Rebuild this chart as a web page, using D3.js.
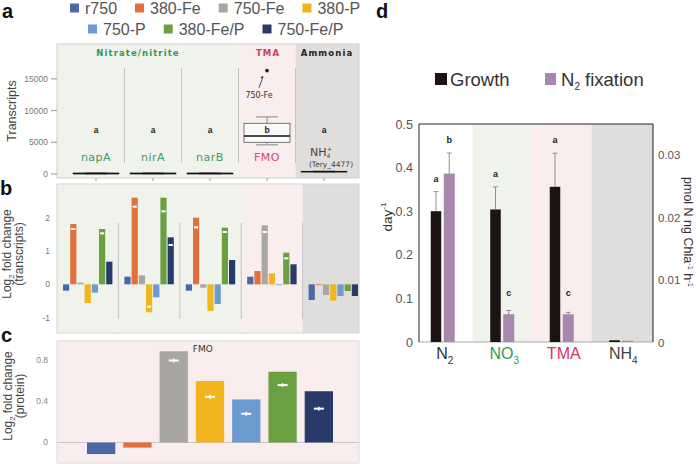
<!DOCTYPE html>
<html><head><meta charset="utf-8">
<script src="https://cdn.jsdelivr.net/npm/d3@7"></script>
<style>body{margin:0;background:#fff} svg{display:block}</style>
</head><body>
<svg id="c" width="696" height="464"></svg>
<script>
// ---------- DATA ----------
const series = ["r750", "380-Fe", "750-Fe", "380-P", "750-P", "380-Fe/P", "750-Fe/P"];
const seriesColors = ["#4a68a8", "#e2703a", "#a9a6a2", "#f2b51e", "#6b9bd0", "#6ba042", "#283a6a"];

const genes = ["napA", "nirA", "narB", "FMO", "NH4"];
const geneGroup = ["nitrate", "nitrate", "nitrate", "tma", "ammonia"];
// transcripts boxplot stats: [min, q1, median, q3, max]
const transcriptStats = [
  [0, 40, 80, 130, 200],
  [0, 40, 80, 130, 200],
  [0, 40, 80, 130, 200],
  [4600, 5000, 6000, 8000, 9000],
  [280, 320, 370, 420, 480]
];
const transcriptLetters = ["a", "a", "a", "b", "a"];
const transcriptOutlier = { gene: "FMO", value: 16300, label: "750-Fe" };
const transcriptTicks = [0, 5000, 10000, 15000];

// log2 fold change (transcripts), rows = genes, cols = series
const log2Transcripts = [
  [-0.19, 1.81, 0.05, -0.56, -0.25, 1.66, 0.68],
  [0.23, 2.60, 0.27, -0.84, -0.39, 2.60, 1.41],
  [-0.19, 2.00, -0.10, -0.80, -0.59, 1.70, 0.73],
  [0.23, 0.40, 1.77, 0.33, -0.02, 0.95, 0.60],
  [-0.47, -0.02, -0.32, -0.49, -0.35, -0.20, -0.35]
];
const log2TranscriptMarkers = [
  [null, 1.66, null, null, null, 1.53, null],
  [null, 2.33, null, -0.67, null, 2.19, 1.18],
  [null, 1.71, null, null, null, 1.57, null],
  [null, null, 1.57, null, null, 0.78, null],
  [null, null, null, null, null, null, null]
];
const log2TranscriptTicks = [-1, 0, 1, 2];

// log2 fold change (protein), FMO
const log2Protein = [-0.113, -0.05, 0.89, 0.60, 0.42, 0.69, 0.50];
const log2ProteinMarkers = [null, null, 0.80, 0.445, 0.28, 0.56, 0.33];
const log2ProteinTicks = [0, 0.4, 0.8];

// panel d
const substrates = ["N2", "NO3", "TMA", "NH4"];
const substrateGroup = ["none", "nitrate", "tma", "ammonia"];
const growth = [0.300, 0.304, 0.356, 0.004];
const growthErr = [0.045, 0.052, 0.077, 0];
const growthLetters = ["a", "a", "a", ""];
const fixation = [0.0270, 0.00445, 0.00445, 0.0002];
const fixationErr = [0.0033, 0.0006, 0.0003, 0];
const fixationLetters = ["b", "c", "c", ""];
const growthTicks = [0, 0.1, 0.2, 0.3, 0.4, 0.5];
const fixationTicks = [0, 0.01, 0.02, 0.03];

// ---------- STYLE ----------
const bgColor = { nitrate: "#eff3ec", tma: "#f9eded", ammonia: "#e0dedc", none: "#ffffff" };
const SANS = "'Liberation Sans', Arial, sans-serif";
const NARROW = "'Liberation Sans Narrow', 'Liberation Sans', Arial, sans-serif";
const WIDE = "'DejaVu Sans', sans-serif";
const svg = d3.select("#c");

function panelLabel(t, x, y) {
  svg.append("text").attr("x", x).attr("y", y).text(t)
    .attr("font-family", SANS).attr("font-weight", "bold").attr("font-size", 20).attr("fill", "#111");
}

// ---------- LEGEND (a) ----------
{
  const rows = [[0, 1, 2, 3], [4, 5, 6]];
  const starts = [70, 88];
  const ys = [8, 29];
  rows.forEach((r, ri) => {
    let x = starts[ri];
    r.forEach(i => {
      svg.append("rect").attr("x", x).attr("y", ys[ri] - 4.5).attr("width", 9).attr("height", 9).attr("fill", seriesColors[i]);
      const t = svg.append("text").attr("x", x + 15).attr("y", ys[ri] + 6).text(series[i])
        .attr("font-family", SANS).attr("font-size", 16).attr("fill", "#555");
      x += 15 + t.node().getComputedTextLength() + 18;
    });
  });
}
panelLabel("a", 2, 18);
panelLabel("b", 0, 195);
panelLabel("c", 1, 342);
panelLabel("d", 376, 18);

// ---------- PANEL A ----------
const A = { l: 57, r: 359, t: 44, b: 178 };
const xA = d3.scalePoint().domain(genes).range([96, 324]);
const yA = d3.scaleLinear().domain([-630, 20500]).range([A.b, A.t]);
const stepA = xA.step();
genes.forEach((g, i) => {
  const x0 = i === 0 ? A.l : xA(g) - stepA / 2;
  const x1 = i === genes.length - 1 ? A.r : xA(g) + stepA / 2;
  svg.append("rect").attr("x", x0).attr("y", A.t).attr("width", x1 - x0).attr("height", A.b - A.t)
    .attr("fill", bgColor[geneGroup[i]]);
});
svg.append("rect").attr("x", A.l).attr("y", A.t).attr("width", A.r - A.l).attr("height", A.b - A.t)
  .attr("fill", "none").attr("stroke", "#cfcfcf");
genes.slice(1).forEach(g => {
  svg.append("line").attr("x1", xA(g) - stepA / 2).attr("x2", xA(g) - stepA / 2)
    .attr("y1", 68).attr("y2", 163).attr("stroke", "#b8b8b8").attr("stroke-width", 0.8);
});
// y axis
transcriptTicks.forEach(v => {
  svg.append("line").attr("x1", 51).attr("x2", A.l).attr("y1", yA(v)).attr("y2", yA(v)).attr("stroke", "#999");
  svg.append("text").attr("x", 48).attr("y", yA(v) + 3).attr("text-anchor", "end").text(v)
    .attr("font-family", SANS).attr("font-size", 8.5).attr("fill", "#777");
});
genes.forEach(g => {
  svg.append("line").attr("x1", xA(g)).attr("x2", xA(g)).attr("y1", A.b).attr("y2", A.b + 3).attr("stroke", "#999");
});
svg.append("text").attr("transform", `translate(16,${111}) rotate(-90)`).attr("text-anchor", "middle")
  .text("Transcripts").attr("font-family", NARROW).attr("font-size", 12.5).attr("fill", "#444");
// section titles
const titleA = [["Nitrate/nitrite", (xA("napA") + xA("narB")) / 2 - 15, "#2f9a55"], ["TMA", xA("FMO") + 1, "#d23c6a"], ["Ammonia", xA("NH4") + 3, "#222"]];
titleA.forEach(([t, x, c]) => {
  svg.append("text").attr("x", x).attr("y", 55.5).attr("text-anchor", "middle").text(t)
    .attr("font-family", WIDE).attr("font-size", 8.5).attr("letter-spacing", 1.1).attr("font-weight", "bold").attr("fill", c);
});
// boxplots
const boxW = 46;
transcriptStats.forEach((s, i) => {
  const cx = xA(genes[i]);
  const [mn, q1, md, q3, mx] = s;
  const g = svg.append("g");
  g.append("line").attr("x1", cx).attr("x2", cx).attr("y1", yA(mx)).attr("y2", yA(q3)).attr("stroke", "#888");
  g.append("line").attr("x1", cx).attr("x2", cx).attr("y1", yA(q1)).attr("y2", yA(mn)).attr("stroke", "#888");
  g.append("line").attr("x1", cx - 11).attr("x2", cx + 11).attr("y1", yA(mx)).attr("y2", yA(mx)).attr("stroke", "#888");
  g.append("line").attr("x1", cx - 11).attr("x2", cx + 11).attr("y1", yA(mn)).attr("y2", yA(mn)).attr("stroke", "#888");
  g.append("rect").attr("x", cx - boxW / 2).attr("y", yA(q3)).attr("width", boxW).attr("height", Math.max(0, yA(q1) - yA(q3)))
    .attr("fill", "#fbfafa").attr("stroke", "#555").attr("stroke-width", 0.8);
  g.append("line").attr("x1", cx - boxW / 2).attr("x2", cx + boxW / 2).attr("y1", yA(md)).attr("y2", yA(md))
    .attr("stroke", "#111").attr("stroke-width", 1.4);
  g.append("text").attr("x", cx).attr("y", yA(7000) + 3).attr("text-anchor", "middle").text(transcriptLetters[i])
    .attr("font-family", SANS).attr("font-weight", "bold").attr("font-size", 8.5).attr("fill", "#222");
});
{
  const cx = xA(transcriptOutlier.gene), cy = yA(transcriptOutlier.value);
  svg.append("circle").attr("cx", cx).attr("cy", cy).attr("r", 1.8).attr("fill", "#111");
  svg.append("line").attr("x1", cx - 4).attr("y1", cy + 6).attr("x2", cx - 8).attr("y2", cy + 17).attr("stroke", "#222").attr("stroke-width", 0.8);
  svg.append("path").attr("d", `M${cx - 4},${cy + 5} l-2.5,2 l2,0.8 z`).attr("fill", "#222");
  svg.append("text").attr("x", cx - 8).attr("y", cy + 27).attr("text-anchor", "middle").text(transcriptOutlier.label)
    .attr("font-family", WIDE).attr("font-size", 8).attr("fill", "#333");
}
// gene labels
[["napA", "#3a9a5f"], ["nirA", "#3a9a5f"], ["narB", "#3a9a5f"], ["FMO", "#d24a78"]].forEach(([g, c]) => {
  svg.append("text").attr("x", xA(g)).attr("y", 161).attr("text-anchor", "middle").text(g)
    .attr("font-family", WIDE).attr("font-size", 11).attr("letter-spacing", 0.5).attr("fill", c);
});
{
  const t = svg.append("text").attr("x", xA("NH4") - 3).attr("y", 156).attr("text-anchor", "middle")
    .attr("font-family", WIDE).attr("font-size", 11).attr("fill", "#444");
  t.append("tspan").text("NH");
  t.append("tspan").text("4").attr("font-size", 6).attr("dy", 2);
  t.append("tspan").text("+").attr("font-size", 6).attr("dy", -7).attr("dx", -3.5);
  svg.append("text").attr("x", xA("NH4") + 7).attr("y", 167).attr("text-anchor", "middle").text("(Tery_4477)")
    .attr("font-family", WIDE).attr("font-size", 7.5).attr("fill", "#444");
}

// ---------- PANEL B ----------
const B = { l: 57, r: 359, t: 184, b: 333 };
const xB = d3.scaleBand().domain(genes).range([57, 364]);
const xBi = d3.scaleBand().domain(series).range([6, 55.4]).paddingInner(0.14);
const yB = d3.scaleLinear().domain([-1.46, 3.01]).range([B.b, B.t]);
genes.forEach((g, i) => {
  const x0 = Math.max(B.l, xB(g)), x1 = Math.min(B.r, xB(g) + xB.step());
  svg.append("rect").attr("x", x0).attr("y", B.t).attr("width", x1 - x0).attr("height", B.b - B.t).attr("fill", bgColor[geneGroup[i]]);
});
svg.append("rect").attr("x", B.l).attr("y", B.t).attr("width", B.r - B.l).attr("height", B.b - B.t)
  .attr("fill", "none").attr("stroke", "#d4d4d4");
genes.slice(1).forEach(g => {
  svg.append("line").attr("x1", xB(g)).attr("x2", xB(g)).attr("y1", 223).attr("y2", 319)
    .attr("stroke", "#b8b8b8").attr("stroke-width", 0.8);
});
log2TranscriptTicks.forEach(v => {
  svg.append("text").attr("x", 50).attr("y", yB(v) + 3).attr("text-anchor", "end").text(v)
    .attr("font-family", SANS).attr("font-size", 8.5).attr("fill", "#777");
});
log2Transcripts.forEach((row, gi) => {
  row.forEach((v, si) => {
    const x = xB(genes[gi]) + xBi(series[si]);
    svg.append("rect").attr("x", x).attr("width", xBi.bandwidth())
      .attr("y", Math.min(yB(v), yB(0))).attr("height", Math.max(0.8, Math.abs(yB(v) - yB(0))))
      .attr("fill", seriesColors[si]);
    const m = log2TranscriptMarkers[gi][si];
    if (m !== null) {
      svg.append("rect").attr("x", x + 1).attr("width", xBi.bandwidth() - 2).attr("y", yB(m) - 1).attr("height", 2).attr("fill", "#fff");
    }
  });
});
function yLabel2(l1, sub, l1b, l2, cx, cy) {
  const t = svg.append("text").attr("transform", `translate(${cx},${cy}) rotate(-90)`).attr("text-anchor", "middle")
    .attr("font-family", NARROW).attr("font-size", 12).attr("fill", "#444");
  t.append("tspan").text(l1);
  t.append("tspan").text(sub).attr("font-size", 7.5).attr("dy", 3);
  t.append("tspan").text(l1b).attr("dy", -3);
  svg.append("text").attr("transform", `translate(${cx + 12},${cy}) rotate(-90)`).attr("text-anchor", "middle")
    .attr("font-family", NARROW).attr("font-size", 12).attr("fill", "#444").text(l2);
}
yLabel2("Log", "2", " fold change", "(transcripts)", 11, 254);

// ---------- PANEL C ----------
const C = { l: 57, r: 359, t: 341, b: 463 };
const xC = d3.scaleBand().domain(series).range([83, 337]).paddingInner(0.22).paddingOuter(0.11);
const yC = d3.scaleLinear().domain([-0.2, 0.99]).range([C.b, C.t]);
svg.append("rect").attr("x", C.l).attr("y", C.t).attr("width", C.r - C.l).attr("height", C.b - C.t)
  .attr("fill", bgColor.tma).attr("stroke", "#d8d8d8");
svg.append("line").attr("x1", C.l).attr("x2", C.r).attr("y1", yC(0)).attr("y2", yC(0)).attr("stroke", "#bbb").attr("stroke-width", 0.8);
log2ProteinTicks.forEach(v => {
  svg.append("text").attr("x", 48).attr("y", yC(v) + 3).attr("text-anchor", "end").text(v)
    .attr("font-family", SANS).attr("font-size", 8.5).attr("fill", "#888");
});
log2Protein.forEach((v, i) => {
  const x = xC(series[i]);
  svg.append("rect").attr("x", x).attr("width", xC.bandwidth())
    .attr("y", Math.min(yC(v), yC(0))).attr("height", Math.abs(yC(v) - yC(0))).attr("fill", seriesColors[i]);
  const m = log2ProteinMarkers[i];
  if (m !== null) {
    const cx = x + xC.bandwidth() / 2;
    svg.append("rect").attr("x", cx - 5).attr("width", 10).attr("y", yC(m) - 1).attr("height", 2).attr("fill", "#fff");
    svg.append("rect").attr("x", cx - 0.7).attr("width", 1.4).attr("y", yC(m) - 2).attr("height", 4).attr("fill", "#fff");
  }
});
svg.append("text").attr("x", (xC("750-Fe") + xC("380-P") + xC.bandwidth()) / 2 + 11).attr("y", 351.5).attr("text-anchor", "middle")
  .text("FMO").attr("font-family", WIDE).attr("font-size", 9).attr("fill", "#333");
yLabel2("Log", "2", " fold change", "(protein)", 12, 396);

// ---------- PANEL D ----------
const D = { l: 419, r: 653, t: 124, b: 342 };
const xD = d3.scaleBand().domain(substrates).range([413, 651]);
const yD = d3.scaleLinear().domain([0, 0.5]).range([D.b, D.t]);
const yD2 = d3.scaleLinear().domain([0, 0.03495]).range([D.b, D.t]);
substrates.forEach((s, i) => {
  const x0 = Math.max(D.l, xD(s));
  const x1 = i === substrates.length - 1 ? D.r : xD(s) + xD.step();
  svg.append("rect").attr("x", x0).attr("y", D.t).attr("width", x1 - x0).attr("height", D.b - D.t).attr("fill", bgColor[substrateGroup[i]]);
});
svg.append("line").attr("x1", D.l).attr("x2", D.r).attr("y1", D.b).attr("y2", D.b).attr("stroke", "#aaa");
svg.append("path").attr("d", `M${D.l},${D.b}V${D.t}H${D.r}V${D.b}`).attr("fill", "none").attr("stroke", "#222").attr("stroke-width", 1);
growthTicks.forEach(v => {
  svg.append("text").attr("x", 413).attr("y", yD(v) + 4.5).attr("text-anchor", "end").text(v)
    .attr("font-family", NARROW).attr("font-size", 12.5).attr("fill", "#555");
});
fixationTicks.forEach(v => {
  svg.append("text").attr("x", 658).attr("y", yD2(v) + 4.5).attr("text-anchor", "start").text(v)
    .attr("font-family", NARROW).attr("font-size", 11.5).attr("fill", "#555");
});
const gW = 10.5, fW = 11;
substrates.forEach((s, i) => {
  const c = xD(s) + xD.step() / 2;
  // growth
  const gx = c - 1.5 - gW;
  svg.append("rect").attr("x", gx).attr("width", gW).attr("y", yD(growth[i])).attr("height", yD(0) - yD(growth[i])).attr("fill", "#1c1414");
  if (growthErr[i] > 0) {
    const et = yD(growth[i] + growthErr[i]);
    svg.append("line").attr("x1", gx + gW / 2).attr("x2", gx + gW / 2).attr("y1", yD(growth[i])).attr("y2", et).attr("stroke", "#777").attr("stroke-width", 0.8);
    svg.append("line").attr("x1", gx + gW / 2 - 2.5).attr("x2", gx + gW / 2 + 2.5).attr("y1", et).attr("y2", et).attr("stroke", "#777").attr("stroke-width", 0.8);
    svg.append("text").attr("x", gx + gW / 2).attr("y", et - 10).attr("text-anchor", "middle").text(growthLetters[i])
      .attr("font-family", SANS).attr("font-weight", "bold").attr("font-size", 9).attr("fill", "#222");
  }
  // fixation
  const fx = c + 1;
  svg.append("rect").attr("x", fx).attr("width", fW).attr("y", yD2(fixation[i])).attr("height", yD2(0) - yD2(fixation[i])).attr("fill", "#a787ae");
  if (fixationErr[i] > 0) {
    const et = yD2(fixation[i] + fixationErr[i]);
    svg.append("line").attr("x1", fx + fW / 2).attr("x2", fx + fW / 2).attr("y1", yD2(fixation[i])).attr("y2", et).attr("stroke", "#777").attr("stroke-width", 0.8);
    svg.append("line").attr("x1", fx + fW / 2 - 2.5).attr("x2", fx + fW / 2 + 2.5).attr("y1", et).attr("y2", et).attr("stroke", "#777").attr("stroke-width", 0.8);
    const ly = fixationLetters[i] === "c" ? Math.min(et - 10, 296) : et - 10;
    svg.append("text").attr("x", fx + fW / 2).attr("y", ly).attr("text-anchor", "middle").text(fixationLetters[i])
      .attr("font-family", SANS).attr("font-weight", "bold").attr("font-size", 9).attr("fill", "#222");
  }
});
// category labels
const catLab = [["N", "2", "#333"], ["NO", "3", "#2f9a55"], ["TMA", "", "#d2345f"], ["NH", "4", "#444"]];
substrates.forEach((s, i) => {
  const [main, sub, col] = catLab[i];
  const t = svg.append("text").attr("x", xD(s) + xD.step() / 2 + 2).attr("y", 359).attr("text-anchor", "middle")
    .attr("font-family", NARROW).attr("font-size", 16).attr("fill", col);
  t.append("tspan").text(main);
  if (sub) t.append("tspan").text(sub).attr("font-size", 10).attr("dy", 5);
});
// axis titles
{
  const t = svg.append("text").attr("transform", "translate(392,217) rotate(-90)").attr("text-anchor", "middle")
    .attr("font-family", NARROW).attr("font-size", 13.5).attr("fill", "#333");
  t.append("tspan").text("day");
  t.append("tspan").text("-1").attr("font-size", 8).attr("dy", -6);
  const r = svg.append("text").attr("transform", "translate(684,232) rotate(90)").attr("text-anchor", "middle")
    .attr("font-family", NARROW).attr("font-size", 12.5).attr("fill", "#333");
  r.append("tspan").text("pmol N ng Chla");
  r.append("tspan").text("-1").attr("font-size", 7.5).attr("dy", -4);
  r.append("tspan").text(" h").attr("dy", 4);
  r.append("tspan").text("-1").attr("font-size", 7.5).attr("dy", -4);
}
// legend d
{
  svg.append("rect").attr("x", 435).attr("y", 73).attr("width", 12).attr("height", 12).attr("fill", "#1c1414");
  svg.append("text").attr("x", 450).attr("y", 86).text("Growth").attr("font-family", NARROW).attr("font-size", 18.5).attr("fill", "#333");
  svg.append("rect").attr("x", 545).attr("y", 73).attr("width", 11).attr("height", 12).attr("fill", "#a787ae");
  const t = svg.append("text").attr("x", 561).attr("y", 86).attr("font-family", NARROW).attr("font-size", 18.5).attr("fill", "#333");
  t.append("tspan").text("N");
  t.append("tspan").text("2").attr("font-size", 10).attr("dy", 4);
  t.append("tspan").text(" fixation").attr("dy", -4);
}
</script>
</body></html>
